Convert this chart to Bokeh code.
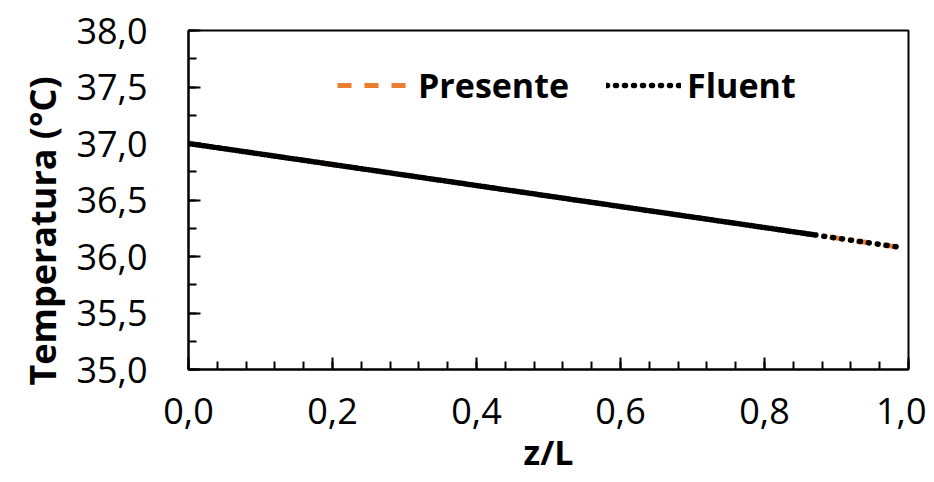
from bokeh.plotting import figure
from bokeh.models import SingleIntervalTicker, CustomJSTickFormatter, Range1d, Legend, LegendItem, Title
from bokeh.embed import file_html
from bokeh.resources import INLINE

# ---- data ----
presente_z = [0.00, 0.10, 0.20, 0.30, 0.40, 0.50, 0.60, 0.70, 0.80, 0.87, 0.985]
presente_t = [37.000, 36.907, 36.814, 36.721, 36.628, 36.535, 36.442, 36.349, 36.256, 36.191, 36.084]

# Fluent: dense mesh points up to z/L = 0.87, then one coarse step to the outlet
fluent_z = [0.000, 0.005, 0.010, 0.015, 0.020, 0.025, 0.030, 0.035, 0.040, 0.045,
            0.050, 0.055, 0.060, 0.065, 0.070, 0.075, 0.080, 0.085, 0.090, 0.095,
            0.100, 0.105, 0.110, 0.115, 0.120, 0.125, 0.130, 0.135, 0.140, 0.145,
            0.150, 0.155, 0.160, 0.165, 0.170, 0.175, 0.180, 0.185, 0.190, 0.195,
            0.200, 0.205, 0.210, 0.215, 0.220, 0.225, 0.230, 0.235, 0.240, 0.245,
            0.250, 0.255, 0.260, 0.265, 0.270, 0.275, 0.280, 0.285, 0.290, 0.295,
            0.300, 0.305, 0.310, 0.315, 0.320, 0.325, 0.330, 0.335, 0.340, 0.345,
            0.350, 0.355, 0.360, 0.365, 0.370, 0.375, 0.380, 0.385, 0.390, 0.395,
            0.400, 0.405, 0.410, 0.415, 0.420, 0.425, 0.430, 0.435, 0.440, 0.445,
            0.450, 0.455, 0.460, 0.465, 0.470, 0.475, 0.480, 0.485, 0.490, 0.495,
            0.500, 0.505, 0.510, 0.515, 0.520, 0.525, 0.530, 0.535, 0.540, 0.545,
            0.550, 0.555, 0.560, 0.565, 0.570, 0.575, 0.580, 0.585, 0.590, 0.595,
            0.600, 0.605, 0.610, 0.615, 0.620, 0.625, 0.630, 0.635, 0.640, 0.645,
            0.650, 0.655, 0.660, 0.665, 0.670, 0.675, 0.680, 0.685, 0.690, 0.695,
            0.700, 0.705, 0.710, 0.715, 0.720, 0.725, 0.730, 0.735, 0.740, 0.745,
            0.750, 0.755, 0.760, 0.765, 0.770, 0.775, 0.780, 0.785, 0.790, 0.795,
            0.800, 0.805, 0.810, 0.815, 0.820, 0.825, 0.830, 0.835, 0.840, 0.845,
            0.850, 0.855, 0.860, 0.865, 0.870, 0.985]
fluent_t = [37.000, 36.995, 36.991, 36.986, 36.981, 36.977, 36.972, 36.967, 36.963, 36.958,
            36.954, 36.949, 36.944, 36.940, 36.935, 36.930, 36.926, 36.921, 36.916, 36.912,
            36.907, 36.902, 36.898, 36.893, 36.888, 36.884, 36.879, 36.874, 36.870, 36.865,
            36.861, 36.856, 36.851, 36.847, 36.842, 36.837, 36.833, 36.828, 36.823, 36.819,
            36.814, 36.809, 36.805, 36.800, 36.795, 36.791, 36.786, 36.781, 36.777, 36.772,
            36.768, 36.763, 36.758, 36.754, 36.749, 36.744, 36.740, 36.735, 36.730, 36.726,
            36.721, 36.716, 36.712, 36.707, 36.702, 36.698, 36.693, 36.688, 36.684, 36.679,
            36.675, 36.670, 36.665, 36.661, 36.656, 36.651, 36.647, 36.642, 36.637, 36.633,
            36.628, 36.623, 36.619, 36.614, 36.609, 36.605, 36.600, 36.595, 36.591, 36.586,
            36.582, 36.577, 36.572, 36.568, 36.563, 36.558, 36.554, 36.549, 36.544, 36.540,
            36.535, 36.530, 36.526, 36.521, 36.516, 36.512, 36.507, 36.502, 36.498, 36.493,
            36.489, 36.484, 36.479, 36.475, 36.470, 36.465, 36.461, 36.456, 36.451, 36.447,
            36.442, 36.437, 36.433, 36.428, 36.423, 36.419, 36.414, 36.409, 36.405, 36.400,
            36.396, 36.391, 36.386, 36.382, 36.377, 36.372, 36.368, 36.363, 36.358, 36.354,
            36.349, 36.344, 36.340, 36.335, 36.330, 36.326, 36.321, 36.316, 36.312, 36.307,
            36.303, 36.298, 36.293, 36.289, 36.284, 36.279, 36.275, 36.270, 36.265, 36.261,
            36.256, 36.251, 36.247, 36.242, 36.237, 36.233, 36.228, 36.223, 36.219, 36.214,
            36.210, 36.205, 36.200, 36.196, 36.191, 36.084]

x_title = "z/L"
y_title = "Temperatura (°C)"
FONT = "Open Sans"

p = figure(frame_width=720, frame_height=339,
           x_range=Range1d(0, 1), y_range=Range1d(35, 38),
           output_backend="svg", toolbar_location=None,
           min_border_left=188, min_border_right=18,
           min_border_top=30, min_border_bottom=105,
           background_fill_color="white", border_fill_color="white")

p.outline_line_color = "black"
p.outline_line_width = 2
p.xgrid.visible = False
p.ygrid.visible = False

fmt = CustomJSTickFormatter(code="return tick.toFixed(1).replace('.', ',');")

xa = p.xaxis[0]
xa.ticker = SingleIntervalTicker(interval=0.2, num_minor_ticks=5)
ya = p.yaxis[0]
ya.ticker = SingleIntervalTicker(interval=0.5, num_minor_ticks=2)

for ax in (xa, ya):
    ax.formatter = fmt
    ax.axis_line_color = "black"
    ax.axis_line_width = 2
    ax.major_tick_line_color = "black"
    ax.major_tick_line_width = 2
    ax.minor_tick_line_color = "black"
    ax.minor_tick_line_width = 2
    ax.major_tick_out = 0
    ax.minor_tick_out = 0
    ax.major_tick_in = 12
    ax.minor_tick_in = 8
    ax.major_label_text_font = FONT
    ax.major_label_text_font_size = "36px"
    ax.major_label_text_color = "black"
    ax.axis_label_text_font = FONT
    ax.axis_label_text_font_size = "34px"
    ax.axis_label_text_font_style = "bold"
    ax.axis_label_text_color = "black"

xa.axis_label = x_title
xa.major_label_standoff = 28
ya.major_label_standoff = 41
xa.axis_label_standoff = 2

# y-axis title: starts a little below the frame bottom, as in the reference
ytitle = Title(text=y_title, align="left", offset=-16, standoff=14,
               text_font=FONT, text_font_size="36px", text_font_style="bold",
               text_color="black")
p.add_layout(ytitle, "left")

r_pres = p.line(presente_z, presente_t, line_color="#ED7D31", line_width=5,
                line_dash="14 13")

seg_xs = [[fluent_z[i], fluent_z[i + 1]] for i in range(len(fluent_z) - 1)]
seg_ys = [[fluent_t[i], fluent_t[i + 1]] for i in range(len(fluent_t) - 1)]
r_flu = p.multi_line(seg_xs, seg_ys, line_color="black", line_width=5.5,
                     line_dash="1 8", line_cap="round")

legend = Legend(items=[LegendItem(label="Presente", renderers=[r_pres]),
                       LegendItem(label="Fluent", renderers=[r_flu])],
                location=(149, 261), orientation="horizontal")
legend.border_line_color = None
legend.background_fill_alpha = 0
legend.padding = 0
legend.margin = 0
legend.spacing = 37
legend.glyph_width = 75
legend.glyph_height = 40
legend.label_height = 40
legend.label_standoff = 6
legend.label_text_font = FONT
legend.label_text_font_size = "34px"
legend.label_text_font_style = "bold"
legend.label_text_color = "black"
p.add_layout(legend, "center")

open("out.html", "w").write(file_html(p, INLINE))
